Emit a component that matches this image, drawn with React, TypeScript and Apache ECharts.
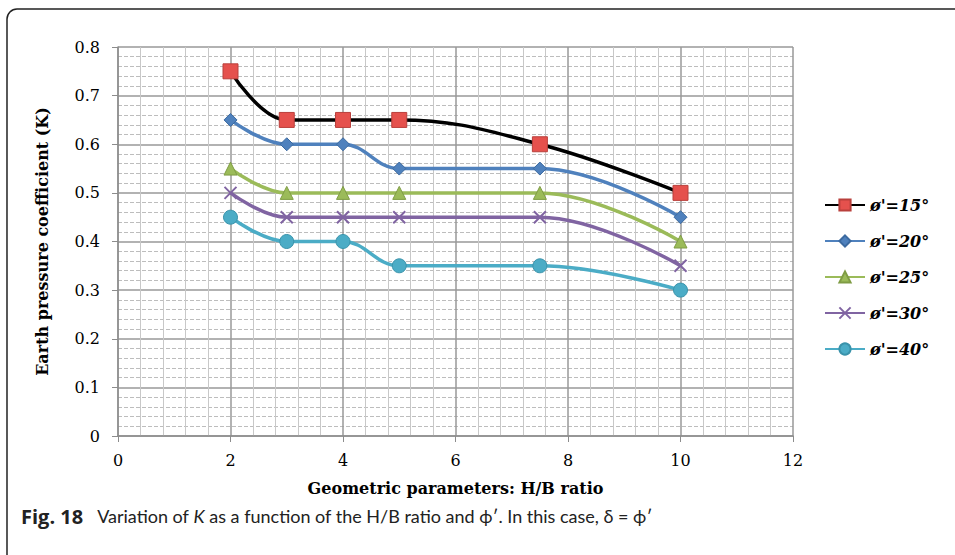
import React, { useEffect, useRef } from "react";
import * as echarts from "echarts";

const xValues = [2, 3, 4, 5, 7.5, 10];
const seriesNames = ["ø'=15°", "ø'=20°", "ø'=25°", "ø'=30°", "ø'=40°"];
const k15 = [0.75, 0.65, 0.65, 0.65, 0.6, 0.5];
const k20 = [0.65, 0.6, 0.6, 0.55, 0.55, 0.45];
const k25 = [0.55, 0.5, 0.5, 0.5, 0.5, 0.4];
const k30 = [0.5, 0.45, 0.45, 0.45, 0.45, 0.35];
const k40 = [0.45, 0.4, 0.4, 0.35, 0.35, 0.3];

const SERIF = "'DejaVu Serif', serif";
const SANS = "Lato, 'Open Sans', sans-serif";

export default function App() {
  const ref = useRef<HTMLDivElement>(null);
  useEffect(() => {
    document.body.style.margin = "0";
    const chart = echarts.init(ref.current!, null, { renderer: "svg" });
    const pair = (ys: number[]) => xValues.map((x, i) => [x, ys[i]]);
    const styles = [
      { line: "#000000", fill: "#e5514d", border: "#b9403c", symbol: "rect", size: 15 },
      { line: "#4f81bd", fill: "#4f81bd", border: "#3c6aa0", symbol: "diamond", size: 13 },
      { line: "#9bbb59", fill: "#9bbb59", border: "#7f9c44", symbol: "triangle", size: 13 },
      { line: "#8064a2", fill: "none", border: "#8064a2", symbol: "path://M0,0L10,10M10,0L0,10", size: 12 },
      { line: "#4bacc6", fill: "#4bacc6", border: "#3a93ab", symbol: "circle", size: 14 },
    ];
    const data = [k15, k20, k25, k30, k40];
    const series = data.map((d, i) => {
      const s = styles[i];
      return {
        name: seriesNames[i],
        type: "line",
        smooth: 0.4,
        data: pair(d),
        symbol: s.symbol,
        symbolSize: s.size,
        lineStyle: { color: s.line, width: 3.5 },
        itemStyle: {
          color: s.fill === "none" ? "rgba(0,0,0,0)" : s.fill,
          borderColor: s.border,
          borderWidth: i === 3 ? 2 : 1,
        },
        z: 10 - i,
      };
    });
    chart.setOption({
      animation: false,
      backgroundColor: "#ffffff",
      grid: { left: 118, right: 162, top: 47, bottom: 119 },
      xAxis: {
        type: "value",
        min: 0,
        max: 12,
        interval: 2,
        name: "Geometric parameters: H/B ratio",
        nameLocation: "middle",
        nameGap: 44,
        nameTextStyle: { fontFamily: SERIF, fontWeight: "bold", fontSize: 16, color: "#000" },
        axisLine: { lineStyle: { color: "#8c8c8c", width: 1.5 } },
        axisTick: { show: true, length: 6, lineStyle: { color: "#8c8c8c" } },
        axisLabel: { fontFamily: SERIF, fontSize: 16, color: "#000", margin: 16 },
        splitLine: { show: true, lineStyle: { color: "#999999", width: 1.5 } },
        minorTick: { show: false, splitNumber: 5 },
        minorSplitLine: { show: true, lineStyle: { color: "#c8c8c8", width: 1 } },
      },
      yAxis: {
        type: "value",
        min: 0,
        max: 0.8,
        interval: 0.1,
        name: "Earth pressure coefficient (K)",
        nameLocation: "middle",
        nameGap: 68,
        nameTextStyle: { fontFamily: SERIF, fontWeight: "bold", fontSize: 16, color: "#000" },
        axisLine: { show: true, lineStyle: { color: "#8c8c8c", width: 1.5 } },
        axisTick: { show: true, length: 6, lineStyle: { color: "#8c8c8c" } },
        axisLabel: {
          fontFamily: SERIF,
          fontSize: 16,
          color: "#000",
          margin: 18,
          formatter: (v: number) => (Math.round(v * 10) / 10).toString(),
        },
        splitLine: { show: true, lineStyle: { color: "#999999", width: 1.5 } },
        minorTick: { show: false, splitNumber: 5 },
        minorSplitLine: { show: true, lineStyle: { color: "#bdbdbd", width: 1, type: [4, 2] } },
      },
      legend: {
        orient: "vertical",
        left: 819,
        top: 192,
        itemWidth: 40,
        itemHeight: 14,
        itemGap: 20,
        textStyle: { fontFamily: SERIF, fontWeight: "bold", fontStyle: "italic", fontSize: 16, color: "#000" },
        data: seriesNames,
      },
      graphic: [
        {
          type: "rect",
          shape: { x: 7, y: 9, width: 1000, height: 600, r: 10 },
          style: { fill: "none", stroke: "#222", lineWidth: 1.5 },
          silent: true,
        },
        {
          type: "text",
          left: 21,
          top: 506,
          style: {
            text: "{b|Fig. 18}Variation of {i|K} as a function of the H/B ratio and ϕ′. In this case, δ = ϕ′",
            fontFamily: SANS,
            fontSize: 18,
            fill: "#222",
            rich: {
              b: { fontFamily: "'Open Sans', sans-serif", fontSize: 20, fontWeight: "bold", fill: "#222", padding: [0, 14, 0, 0] },
              i: { fontFamily: SANS, fontSize: 18, fontStyle: "italic", fill: "#222" },
            },
          },
        },
      ],
      series,
    });
    return () => chart.dispose();
  }, []);
  return <div ref={ref} style={{ position: "absolute", left: 0, top: 0, width: 955, height: 555 }} />;
}
